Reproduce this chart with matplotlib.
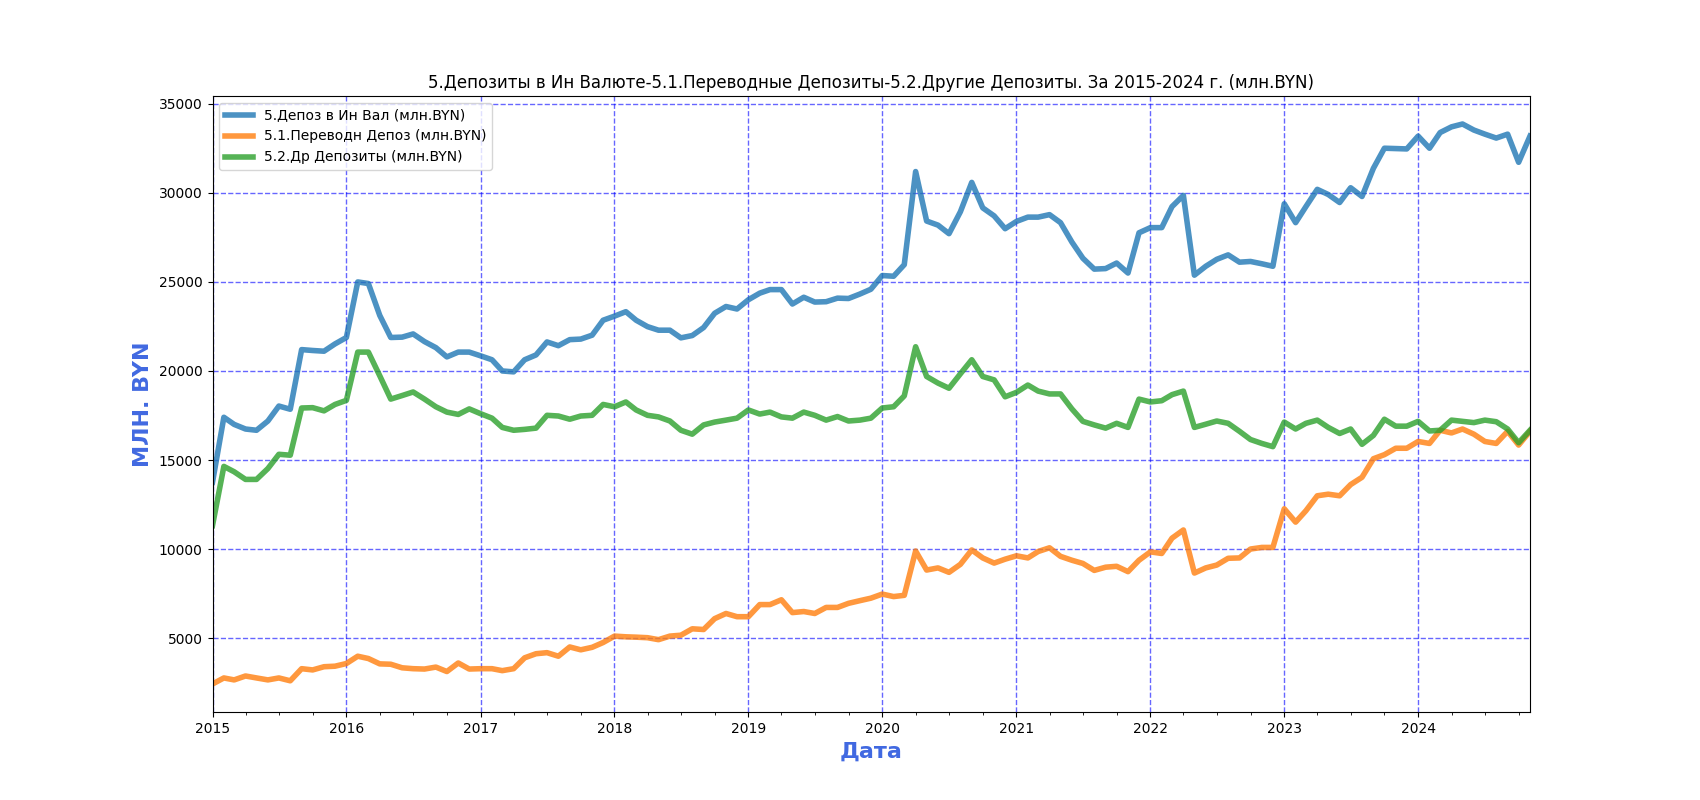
import numpy as np
import pandas as pd
import matplotlib
matplotlib.use("Agg")
import matplotlib.pyplot as plt
import matplotlib.dates as mdates

# ── Data (млн. BYN, monthly 2015-01 .. 2024-11) ────────────────────────────────
dates = pd.date_range("2015-01-01", "2024-11-01", freq="MS")

dep_total = [
    13750, 17400, 17000, 16740, 16670, 17190, 18030, 17850, 21200, 21150, 21110, 21520,
    21880, 25000, 24910, 23120, 21880, 21900, 22080, 21650, 21310, 20790, 21060, 21060,
    20850, 20630, 20000, 19950, 20630, 20900, 21630, 21420, 21760, 21790, 22010, 22850,
    23080, 23330, 22850, 22490, 22290, 22290, 21860, 21990, 22440, 23240, 23620, 23480,
    24000, 24370, 24570, 24570, 23760, 24140, 23870, 23890, 24090, 24070, 24320, 24590,
    25360, 25320, 25970, 31200, 28420, 28190, 27710, 28940, 30590, 29160, 28710, 27990,
    28400, 28640, 28640, 28780, 28330, 27240, 26330, 25720, 25750, 26060, 25500, 27760,
    28050, 28050, 29230, 29860, 25380, 25880, 26270, 26520, 26110, 26150, 26020, 25880,
    29390, 28330, 29230, 30200, 29910, 29460, 30290, 29800, 31380, 32510, 32490, 32470,
    33190, 32510, 33390, 33710, 33870, 33530, 33300, 33080, 33300, 31720, 33190,
]

dep_transfer = [
    2420, 2760, 2650, 2870, 2760, 2650, 2760, 2600, 3280, 3210, 3390, 3420,
    3570, 3980, 3850, 3550, 3530, 3330, 3280, 3260, 3370, 3120, 3600, 3260,
    3280, 3280, 3170, 3280, 3890, 4120, 4180, 3980, 4500, 4340, 4480, 4750,
    5110, 5070, 5050, 5020, 4910, 5110, 5160, 5520, 5480, 6090, 6380, 6200,
    6200, 6880, 6880, 7150, 6430, 6490, 6380, 6720, 6720, 6950, 7100, 7240,
    7470, 7330, 7400, 9890, 8820, 8940, 8690, 9140, 9950, 9500, 9210, 9430,
    9620, 9500, 9860, 10070, 9590, 9370, 9190, 8800, 8980, 9030, 8730, 9370,
    9840, 9750, 10610, 11070, 8650, 8940, 9100, 9480, 9500, 10000, 10090, 10090,
    12260, 11510, 12150, 12990, 13080, 12990, 13620, 14030, 15070, 15300, 15660, 15660,
    16040, 15930, 16670, 16520, 16740, 16450, 16040, 15930, 16610, 15840, 16610,
]

dep_other = [
    11320, 14640, 14340, 13910, 13910, 14520, 15320, 15270, 17920, 17940, 17760, 18120,
    18350, 21060, 21060, 19730, 18420, 18620, 18820, 18420, 17990, 17690, 17560, 17870,
    17600, 17350, 16830, 16670, 16720, 16790, 17510, 17470, 17290, 17470, 17510, 18120,
    17990, 18260, 17810, 17510, 17420, 17190, 16670, 16450, 16970, 17130, 17240, 17350,
    17810, 17580, 17690, 17420, 17350, 17690, 17510, 17240, 17440, 17190, 17240, 17350,
    17920, 17990, 18600, 21360, 19690, 19320, 19030, 19840, 20630, 19690, 19500, 18550,
    18800, 19210, 18870, 18710, 18710, 17870, 17170, 16970, 16790, 17060, 16830, 18420,
    18260, 18330, 18670, 18870, 16830, 17010, 17190, 17060, 16610, 16150, 15930, 15750,
    17130, 16740, 17060, 17240, 16830, 16490, 16740, 15880, 16380, 17290, 16900, 16900,
    17170, 16630, 16670, 17240, 17170, 17100, 17240, 17150, 16740, 15970, 16670,
]

labels = [
    "5.Депоз в Ин Вал (млн.BYN)",
    "5.1.Переводн Депоз (млн.BYN)",
    "5.2.Др Депозиты (млн.BYN)",
]

# ── Plot ────────────────────────────────────────────────────────────────────────
fig, ax = plt.subplots(figsize=(17, 8), dpi=100)

ax.plot(dates, dep_total,    color='tab:blue',   lw=4, alpha=0.8, label=labels[0])
ax.plot(dates, dep_transfer, color='tab:orange', lw=4, alpha=0.8, label=labels[1])
ax.plot(dates, dep_other,    color='tab:green',  lw=4, alpha=0.8, label=labels[2])

ax.set_xlim(dates[0], dates[-1])
ax.xaxis.set_major_locator(mdates.YearLocator())
ax.xaxis.set_major_formatter(mdates.DateFormatter('%Y'))
ax.xaxis.set_minor_locator(mdates.MonthLocator(bymonth=(4, 7, 10)))

ax.set_title("5.Депозиты в Ин Валюте-5.1.Переводные Депозиты-5.2.Другие Депозиты. "
             "За 2015-2024 г. (млн.BYN)", fontsize=12)
ax.set_xlabel("Дата", fontsize=16, fontweight='bold', color='royalblue')
ax.set_ylabel("МЛН. BYN", fontsize=16, fontweight='bold', color='royalblue')
ax.grid(True, color='blue', linestyle='--', alpha=0.6, lw=1)
ax.legend(loc='upper left')

plt.savefig("out.png", dpi=100)
